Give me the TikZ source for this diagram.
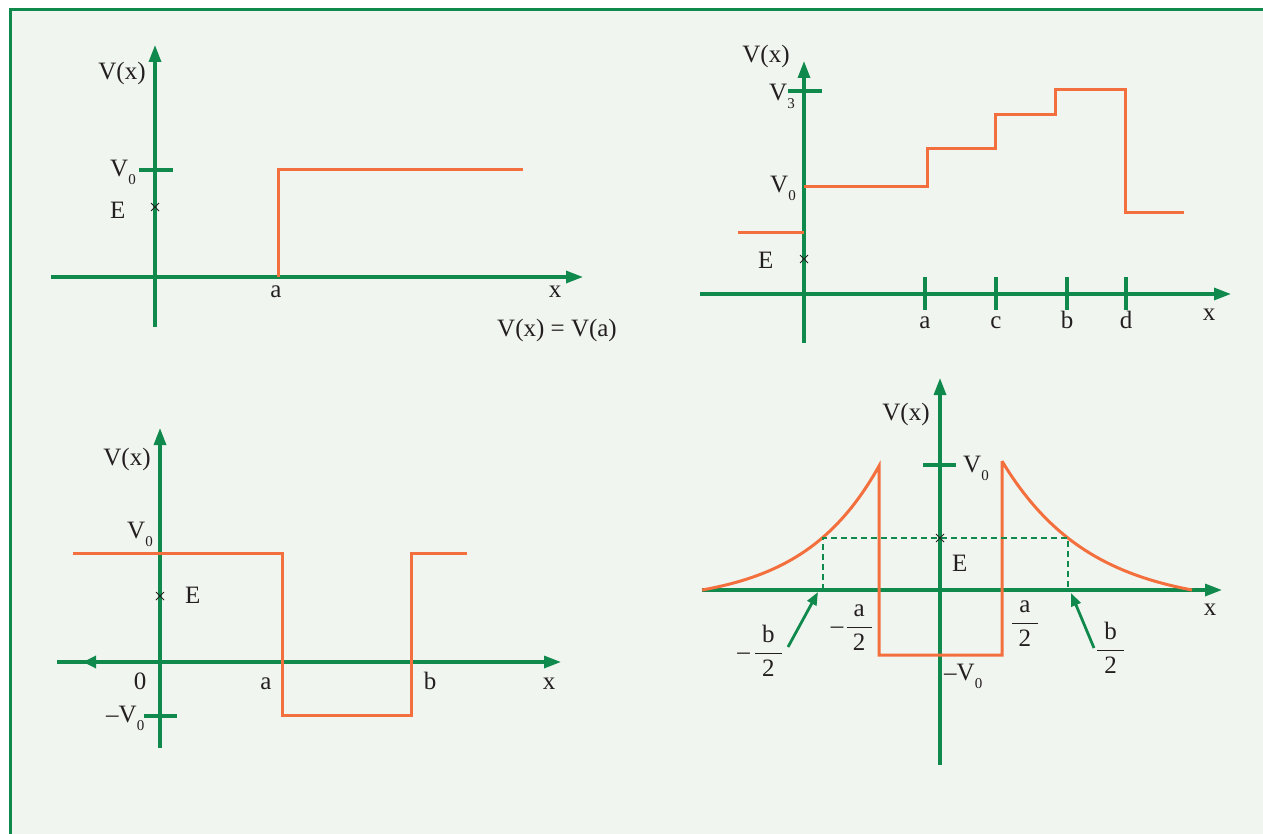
\documentclass[tikz,border=0pt]{standalone}
\usepackage{fix-cm}
\usepackage{fontspec}
\setmainfont{Liberation Serif}
\usetikzlibrary{arrows.meta}
\definecolor{potgreen}{HTML}{10894C}
\definecolor{potorange}{HTML}{F3703E}
\definecolor{potbg}{HTML}{F1F5F0}
\definecolor{potink}{HTML}{231F20}
\newcommand{\lowsub}[1]{\raisebox{-8pt}{\fontsize{15}{15}\selectfont #1}}
\newcommand{\halffrac}[1]{\displaystyle\frac{\hspace{7pt}\mbox{#1}\hspace{7pt}}{\mbox{2}}}

\begin{document}
\begin{tikzpicture}[x=1pt,y=-1pt,font=\fontsize{25}{30}\selectfont,text=potink,inner sep=0pt,
  greenaxis/.style={potgreen,line width=3.2pt,-{Triangle[length=17pt,width=12pt]}},
  greenline/.style={potgreen,line width=3.2pt},
  orangeline/.style={potorange,line width=3pt},
  crossmark/.style={potink,line width=0.9pt},
  guide/.style={potgreen,line width=2.4pt,dash pattern=on 6pt off 4pt},
  pointer/.style={potgreen,line width=2.8pt,-{Triangle[length=13pt,width=10pt]}}]
  \useasboundingbox (0,0) rectangle (1263,834);
  \fill[white] (0,0) rectangle (1263,834);
  \fill[potbg] (10,10) rectangle (1263,834);
  \draw[potgreen,line width=3pt] (10,834) -- (10,10) -- (1263,10);
  % top left: single step
  \draw[greenaxis] (51,277) -- (583,277);
  \draw[greenaxis] (155,327) -- (155,45);
  \draw[greenline] (139,170) -- (173,170);
  \draw[orangeline] (278,277) -- (278,170) -- (523,170);
  \coordinate (e1) at (155,207);
  \draw[crossmark] (e1) +(-4,-4) -- +(4,4) +(-4,4) -- +(4,-4);
  \node[anchor=base] (vx1) at (122,80) {V(x)};
  \node[anchor=base west] (v01) at (110,177) {V\lowsub{0}};
  \node[anchor=base west] (el1) at (110,219) {E};
  \node[anchor=base] (a1) at (276,298) {a};
  \node[anchor=base] (x1) at (555,298) {x};
  \node[anchor=base east] (eq1) at (617,336) {V(x) = V(a)};
  % top right: staircase
  \draw[greenaxis] (700,294) -- (1231,294);
  \draw[greenaxis] (804,343) -- (804,61);
  \draw[greenline] (788,91) -- (822,91);
  \foreach \t/\l in {925/a,996/c,1067/b,1126/d}{
    \draw[greenline] (\t,277) -- (\t,310);
    \node[anchor=base] (t\l) at (\t,328) {\l};}
  \draw[orangeline] (738,233) -- (804,233);
  \draw[orangeline] (804,187) -- (927,187) -- (927,149) -- (995,149) -- (995,115) -- (1055,115) -- (1055,90) -- (1125,90) -- (1125,213) -- (1184,213);
  \coordinate (e2) at (804,259);
  \draw[crossmark] (e2) +(-4,-4) -- +(4,4) +(-4,4) -- +(4,-4);
  \node[anchor=base] (vx2) at (766,63) {V(x)};
  \node[anchor=base west] (v32) at (769,101) {V\lowsub{3}};
  \node[anchor=base west] (v02) at (770,193) {V\lowsub{0}};
  \node[anchor=base west] (el2) at (758,269) {E};
  \node[anchor=base] (x2) at (1209,320) {x};
  % bottom left: well
  \draw[greenaxis] (57,662) -- (561,662);
  \draw[potgreen,line width=3.2pt,-{Triangle[length=13pt,width=12pt]}] (100,662) -- (83,662);
  \draw[greenaxis] (160,748) -- (160,428);
  \draw[greenline] (144,716) -- (177,716);
  \draw[orangeline] (73,553) -- (282,553) -- (282,715) -- (411,715) -- (411,553) -- (467,553);
  \coordinate (e3) at (160,596);
  \draw[crossmark] (e3) +(-4,-4) -- +(4,4) +(-4,4) -- +(4,-4);
  \node[anchor=base] (vx3) at (127,465) {V(x)};
  \node[anchor=base west] (v03) at (127,538) {V\lowsub{0}};
  \node[anchor=base west] (el3) at (185,603) {E};
  \node[anchor=base west] (mv03) at (106,722) {–V\lowsub{0}};
  \foreach \t/\l in {140/0,266/a,430/b,549/x}
    \node[anchor=base] (w\l) at (\t,689) {\l};
  % bottom right: well with tails
  \draw[greenaxis] (702,590) -- (1222,590);
  \draw[greenaxis] (940,765) -- (940,378);
  \draw[greenline] (923,465) -- (956,465);
  \draw[orangeline] plot[domain=702:879,samples=60] (\x,{590-13.8*(exp(0.013*(\x-702))-1)}) -- (879,655) -- (1002,655) -- (1002,461) -- plot[domain=1002:1192,samples=60] (\x,{590-16.7*(exp(0.0114*(1192-\x))-1)});
  \draw[guide] (823,590) -- (823,538) -- (1068,538) -- (1068,590);
  \coordinate (e4) at (940,538);
  \draw[crossmark] (e4) +(-4,-4) -- +(4,4) +(-4,4) -- +(4,-4);
  \node[anchor=base] (vx4) at (906,420) {V(x)};
  \node[anchor=base west] (v04) at (963,472) {V\lowsub{0}};
  \node[anchor=base west] (el4) at (952,571) {E};
  \node[anchor=base west] (mv04) at (944,680) {–V\lowsub{0}};
  \node[anchor=base] (x4) at (1210,615) {x};
  \node[anchor=base east] (fb1) at (783,659) {$\mbox{–}\hspace{4pt}\halffrac{b}$};
  \node[anchor=base east] (fa1) at (873,633) {$\mbox{–}\hspace{2pt}\halffrac{a}$};
  \node[anchor=base west] (fa2) at (1011,629) {$\halffrac{a}$};
  \node[anchor=base west] (fb2) at (1096,656) {$\halffrac{b}$};
  \coordinate (pb1) at (788,647);
  \coordinate (qb1) at (818,592);
  \coordinate (pb2) at (1094,648);
  \coordinate (qb2) at (1071,593);
  \draw[pointer] (pb1) -- (qb1);
  \draw[pointer] (pb2) -- (qb2);
\end{tikzpicture}
\end{document}
